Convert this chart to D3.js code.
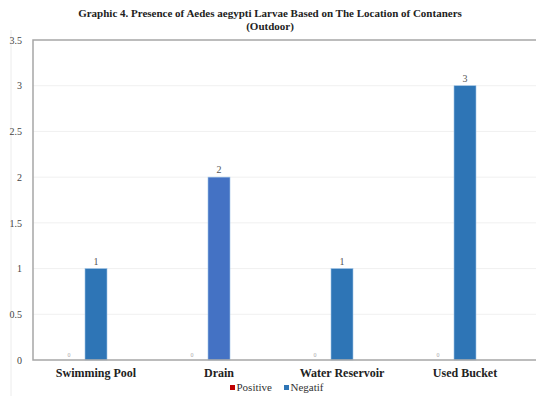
<!DOCTYPE html>
<html>
<head>
<meta charset="utf-8">
<script src="https://cdn.jsdelivr.net/npm/d3@7/dist/d3.min.js"></script>
<style>
  body { margin: 0; background: #fff; }
</style>
</head>
<body>
<svg id="chart" width="536" height="396" font-family="Liberation Serif"></svg>
<script>
// Larvae presence by container location (outdoor)
const categories = ["Swimming Pool", "Drain", "Water Reservoir", "Used Bucket"];
const seriesNames = ["Positive", "Negatif"];
const positiveValues = [0, 0, 0, 0];
const negativeValues = [1, 2, 1, 3];
const yTicks = [0, 0.5, 1, 1.5, 2, 2.5, 3, 3.5];
const titleLines = ["Graphic 4. Presence of Aedes aegypti Larvae Based on The Location of Contaners", "(Outdoor)"];

const FONT = "Liberation Serif";
const svg = d3.select("#chart");
const W = 536, H = 396;
const plot = { left: 33, top: 40, right: 525, bottom: 360 };

const x = d3.scaleBand().domain(categories).range([plot.left + 1.5, plot.right + 1.5]);
const y = d3.scaleLinear().domain([0, 3.5]).range([plot.bottom, plot.top]);
const barW = 22;
const seriesOffset = { Positive: -27, Negatif: 0 };
const seriesColor = { Positive: "#c00000", Negatif: "#2e75b6" };
const pointColor = { "Drain": "#4472c4" };

// faint outer chart border on the left
svg.append("line").attr("x1", 11).attr("x2", 11).attr("y1", 30).attr("y2", H)
  .attr("stroke", "#ececec").attr("stroke-width", 1);

// title
svg.append("g").selectAll("text").data(titleLines).join("text")
  .attr("x", 270).attr("y", (d, i) => 17 + i * 13)
  .attr("text-anchor", "middle").attr("font-family", FONT)
  .attr("font-weight", "bold").attr("font-size", 11).attr("fill", "#222")
  .text(d => d);

// gridlines
svg.append("g").selectAll("line").data(yTicks.filter(t => t > 0 && t < 3.5)).join("line")
  .attr("x1", plot.left).attr("x2", W)
  .attr("y1", d => y(d)).attr("y2", d => y(d))
  .attr("stroke", "#f0f0f0").attr("stroke-width", 1);

// y axis tick labels
const yAxis = d3.axisLeft(y).tickValues(yTicks).tickSize(0).tickPadding(11)
  .tickFormat(d3.format("~g"));
const yg = svg.append("g").attr("transform", `translate(${plot.left},0)`).call(yAxis);
yg.select(".domain").remove();
yg.selectAll("text").attr("font-family", FONT).attr("font-size", 10).attr("fill", "#444");

// bars
const rows = categories.map((c, i) => ({ cat: c, Positive: positiveValues[i], Negatif: negativeValues[i] }));
const bars = [];
rows.forEach(r => seriesNames.forEach(s => bars.push({ cat: r.cat, series: s, value: r[s] })));
const cx = d => x(d.cat) + x.bandwidth() / 2 + seriesOffset[d.series];

svg.append("g").selectAll("rect").data(bars.filter(d => d.value > 0)).join("rect")
  .attr("x", d => cx(d) - barW / 2).attr("width", barW)
  .attr("y", d => y(d.value)).attr("height", d => y(0) - y(d.value))
  .attr("fill", d => d.series === "Negatif" && pointColor[d.cat] ? pointColor[d.cat] : seriesColor[d.series])
  .attr("stroke", "#9dc3e6").attr("stroke-width", 0.6);

// value labels
svg.append("g").selectAll("text").data(bars).join("text")
  .attr("x", d => cx(d))
  .attr("y", d => y(d.value) - (d.value > 0 ? 4 : 3))
  .attr("text-anchor", "middle").attr("font-family", FONT)
  .attr("font-size", d => d.value > 0 ? 10 : 6)
  .attr("fill", d => d.value > 0 ? "#555" : "#aaa")
  .text(d => d.value);

// plot frame: left, top, bottom
svg.append("path")
  .attr("d", `M${W},${plot.top}H${plot.left}V${plot.bottom}H${W}`)
  .attr("fill", "none").attr("stroke", "#a6a6a6").attr("stroke-width", 1.5);

// category labels
const xAxis = d3.axisBottom(x).tickSize(0).tickPadding(8);
const xg = svg.append("g").attr("transform", `translate(0,${plot.bottom})`).call(xAxis);
xg.select(".domain").remove();
xg.selectAll("text").attr("font-family", FONT).attr("font-size", 12)
  .attr("font-weight", "bold").attr("fill", "#222");

// legend
const legend = svg.append("g").attr("transform", "translate(230,391)");
const lx = [0, 54];
seriesNames.forEach((s, i) => {
  const g = legend.append("g").attr("transform", `translate(${lx[i]},0)`);
  g.append("rect").attr("x", 0).attr("y", -6).attr("width", 5).attr("height", 5).attr("fill", seriesColor[s]);
  g.append("text").attr("x", 6.5).attr("y", 0).attr("font-family", FONT)
    .attr("font-size", 11).attr("fill", "#333").text(s);
});
</script>
</body>
</html>
